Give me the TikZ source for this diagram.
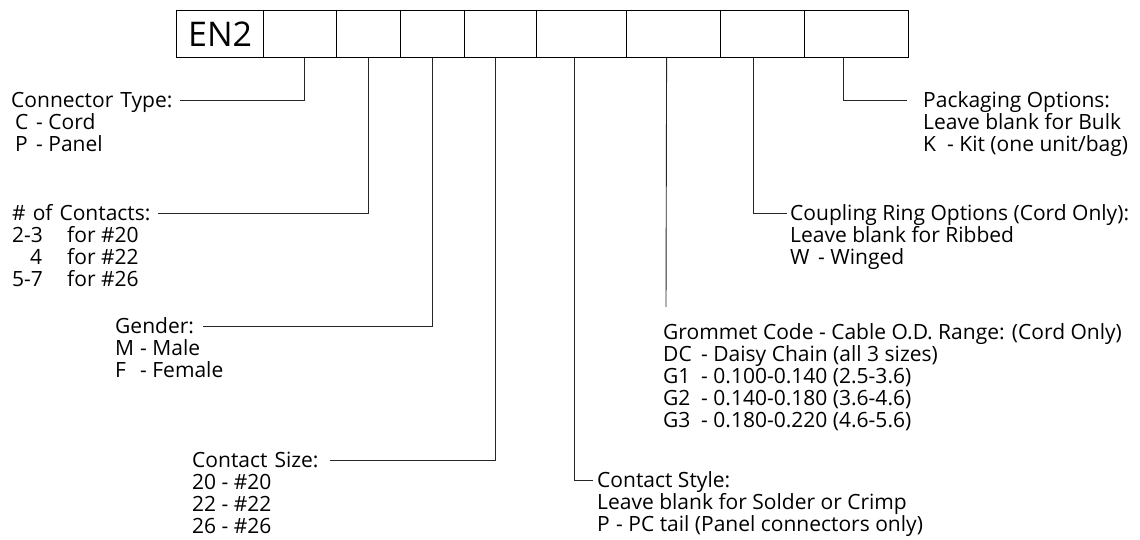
\documentclass[tikz,border=0pt]{standalone}
\usepackage{fontspec}
\setmainfont{Open Sans}
\newcommand\blines[1]{\vtop{\halign{##\hfil\cr#1\crcr}}}
\begin{document}
\begin{tikzpicture}[x=1pt,y=-1pt,
  cell/.style={draw=black,line width=1.2pt,inner sep=0pt,anchor=north west,minimum height=47pt},
  lead/.style={draw=black!85,line width=0.9pt},
  headL/.style={inner sep=0pt,anchor=base west,align=left,text height=15pt,text depth=0pt,font=\fontsize{21}{22}\selectfont},
  headR/.style={inner xsep=#1,inner ysep=0pt,anchor=base west,text height=15pt,text depth=0pt,font=\fontsize{21}{22}\selectfont},
  body/.style={inner sep=0pt,anchor=base west,font=\fontsize{21}{22}\selectfont}]
\useasboundingbox (0,0) rectangle (1140,540);
% part number boxes
\node[cell,minimum width=87pt,font=\fontsize{34}{36}\selectfont] (c0) at (176,10) {EN2};
\node[cell,minimum width=73pt] (c1) at (263,10) {};
\node[cell,minimum width=64pt] (c2) at (336,10) {};
\node[cell,minimum width=64pt] (c3) at (400,10) {};
\node[cell,minimum width=72pt] (c4) at (464,10) {};
\node[cell,minimum width=90pt] (c5) at (536,10) {};
\node[cell,minimum width=94pt] (c6) at (626,10) {};
\node[cell,minimum width=84pt] (c7) at (720,10) {};
\node[cell,minimum width=104pt] (c8) at (804,10) {};
% headings
\node[headL,text width=169pt] (h1) at (11,107.5) {Connector Type:};
\node[headL,text width=146pt] (h2) at (12,220.5) {\# of Contacts:};
\node[headL,text width=88pt] (h3) at (115,333.5) {Gender:};
\node[headL,text width=138pt] (h4) at (192,467.5) {Contact Size:};
\node[headR=4pt] (h5) at (593,487.5) {Contact Style:};
\node[headR=0pt] (h6) at (663,339.5) {Grommet Code - Cable O.D. Range: (Cord Only)};
\node[headR=3pt] (h7) at (787,220.5) {Coupling Ring Options (Cord Only):};
\node[headR=16pt] (h8) at (907,107.5) {Packaging Options:};
% bodies
\node[body] (b1) at ([yshift=-22pt]h1.base west) {\blines{\hspace*{4pt}\makebox[21pt][l]{C}- Cord\cr\hspace*{4pt}\makebox[21pt][l]{P}- Panel}};
\node[body] (b2) at ([yshift=-22pt]h2.base west) {\blines{\makebox[55pt][l]{2-3}for \#20\cr\hspace*{18pt}\makebox[37pt][l]{4}for \#22\cr\makebox[55pt][l]{5-7}for \#26}};
\node[body] (b3) at ([yshift=-22pt]h3.base west) {\blines{\makebox[25pt][l]{M}- Male\cr\makebox[25pt][l]{F}- Female}};
\node[body] (b4) at ([yshift=-22pt]h4.base west) {\blines{20 - \#20\cr22 - \#22\cr26 - \#26}};
\node[body] (b5) at ([yshift=-22pt,xshift=4pt]h5.base west) {\blines{Leave blank for Solder or Crimp\cr\makebox[19pt][l]{P}- PC tail (Panel connectors only)}};
\node[body] (b6) at ([yshift=-21.5pt]h6.base west) {\blines{\makebox[38pt][l]{DC}- Daisy Chain (all 3 sizes)\cr\makebox[38pt][l]{G1}- 0.100-0.140 (2.5-3.6)\cr\makebox[38pt][l]{G2}- 0.140-0.180 (3.6-4.6)\cr\makebox[38pt][l]{G3}- 0.180-0.220 (4.6-5.6)}};
\node[body] (b7) at ([yshift=-22pt,xshift=3pt]h7.base west) {\blines{Leave blank for Ribbed\cr\makebox[28pt][l]{W}- Winged}};
\node[body] (b8) at ([yshift=-22pt,xshift=16pt]h8.base west) {\blines{Leave blank for Bulk\cr\makebox[24pt][l]{K}- Kit (one unit/bag)}};
% connectors
\coordinate (g6) at (666,307);
\draw[lead] ([xshift=4.5pt]c1.south) |- (h1.east);
\draw[lead] (c2.south) |- (h2.east);
\draw[lead] (c3.south) |- (h3.east);
\draw[lead] ([xshift=-5pt]c4.south) |- (h4.east);
\draw[lead] ([xshift=-7pt]c5.south) |- (h5.west);
\draw[lead] ([xshift=-7pt]c6.south) -- (g6);
\draw[lead] ([xshift=-9pt]c7.south) |- (h7.west);
\draw[lead] ([xshift=-13pt]c8.south) |- (h8.west);
\end{tikzpicture}
\end{document}
